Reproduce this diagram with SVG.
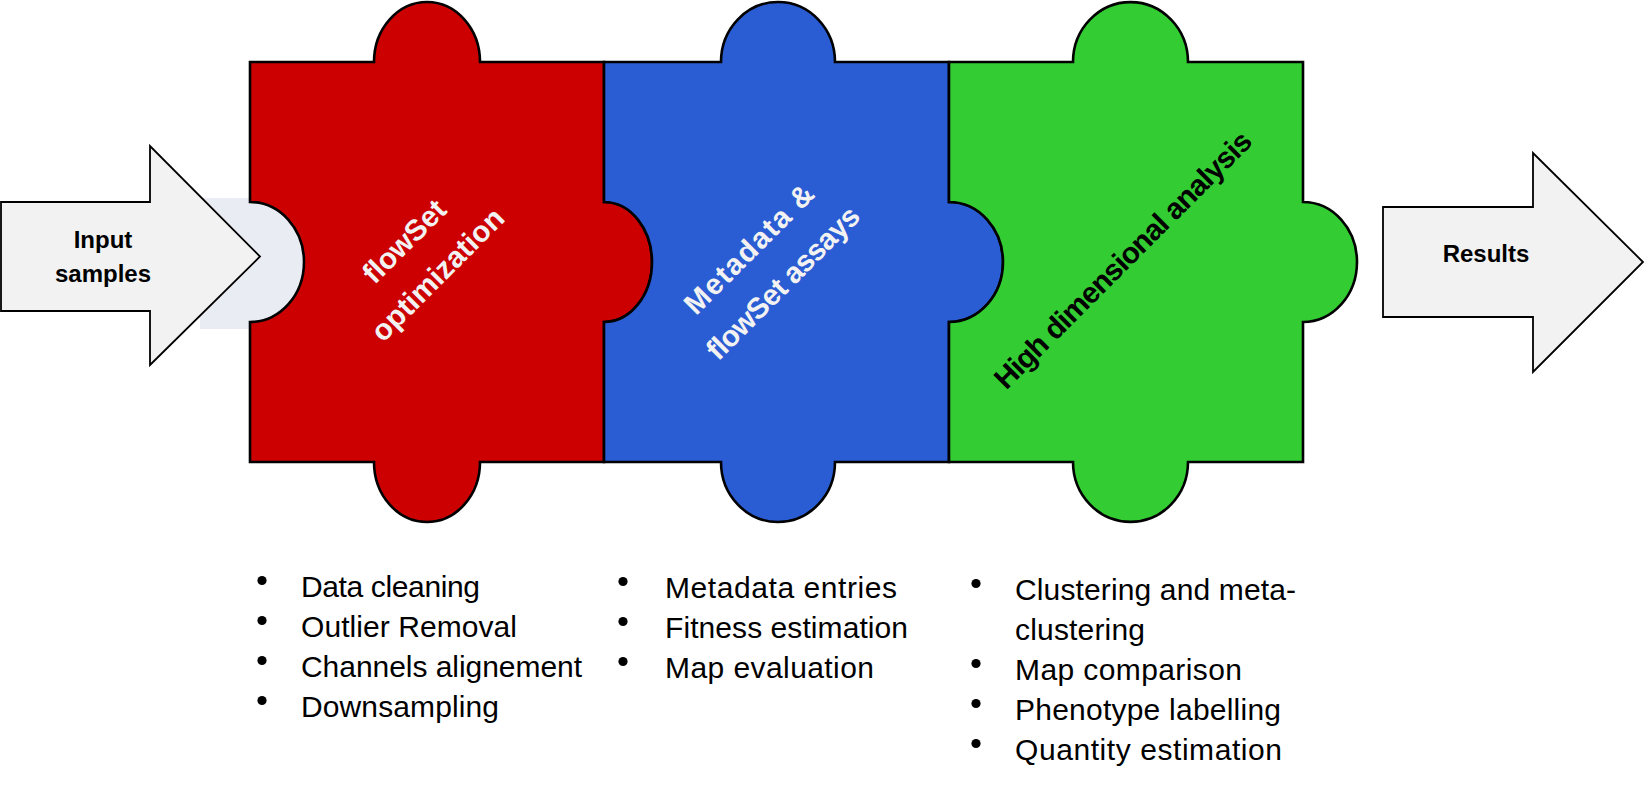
<svg xmlns="http://www.w3.org/2000/svg" width="1645" height="794" viewBox="0 0 1645 794">
  <style>
    .arrow { fill: #F2F2F2; stroke: #000; stroke-width: 1.8; stroke-linejoin: miter; }
    .piece { stroke: #000; stroke-width: 2.6; stroke-linejoin: miter; }
    .lbl { font-family: "Liberation Sans", Arial, sans-serif; font-weight: bold; }
    .big { font-size: 29.5px; text-anchor: middle; }
    .arrowtxt { font-size: 24px; text-anchor: middle; fill: #000; }
    .list { font-family: "Liberation Sans", Arial, sans-serif; font-size: 30px; fill: #000; }
    .dot { fill: #000; }
  </style>
  <rect width="1645" height="794" fill="#fff"/>

  <!-- entry tab behind the input arrow -->
  <g id="input-tab">
    <path d="M200,198 H250 V202 A54,60 0 0 1 250,322 V329 H200 Z" fill="#E9EDF3"/>
  </g>

  <!-- input arrow -->
  <g id="input-samples">
    <path class="arrow" d="M1,202 H150 V146 L260,256.5 L150,365 V311 H1 Z"/>
    <text class="lbl arrowtxt" x="103" y="248">Input</text>
    <text class="lbl arrowtxt" x="103" y="282">samples</text>
  </g>

  <!-- puzzle piece 1 -->
  <g id="flowset-optimization">
    <path class="piece" fill="#CC0000" d="M250,62 H374 A53,60 0 0 1 480,62 H604 V202 A48,60 0 0 1 604,322 V462 H480 A53,60 0 0 1 374,462 H250 V322 A54,60 0 0 0 250,202 Z"/>
    <g transform="translate(428,265) rotate(-45)">
      <text class="lbl big" fill="#F2F2F2" x="0" y="-23.5" textLength="104">flowSet</text>
      <text class="lbl big" fill="#F2F2F2" x="0" y="23.5" textLength="174">optimization</text>
    </g>
  </g>

  <!-- puzzle piece 2 -->
  <g id="metadata-assays">
    <path class="piece" fill="#2A5CD3" d="M604,62 H721 A57,60 0 0 1 835,62 H949 V202 A54,60 0 0 1 949,322 V462 H835 A57,60 0 0 1 721,462 H604 V322 A48,60 0 0 0 604,202 Z"/>
    <g transform="translate(773,273) rotate(-45)">
      <text class="lbl big" fill="#F2F2F2" x="0" y="-24" textLength="170">Metadata &amp;</text>
      <text class="lbl big" fill="#F2F2F2" x="0" y="24" textLength="203">flowSet assays</text>
    </g>
  </g>

  <!-- puzzle piece 3 -->
  <g id="high-dimensional">
    <path class="piece" fill="#33CC33" d="M949,62 H1073 A57.5,60 0 0 1 1188,62 H1303 V202 A54,60 0 0 1 1303,322 V462 H1188 A57.5,60 0 0 1 1073,462 H949 V322 A54,60 0 0 0 949,202 Z"/>
    <g transform="translate(1130,267) rotate(-45)">
      <text class="lbl big" fill="#000" x="0" y="0" textLength="350">High dimensional analysis</text>
    </g>
  </g>

  <!-- output arrow -->
  <g id="results">
    <path class="arrow" d="M1383,207 H1533 V153 L1643,262 L1533,372 V317 H1383 Z"/>
    <text class="lbl arrowtxt" x="1486" y="262">Results</text>
  </g>

  <!-- step details -->
  <g id="list-optimization">
    <circle class="dot" cx="262" cy="580.5" r="4.6"/>
    <circle class="dot" cx="262" cy="620.5" r="4.6"/>
    <circle class="dot" cx="262" cy="660.5" r="4.6"/>
    <circle class="dot" cx="262" cy="700.5" r="4.6"/>
    <text class="list" x="301" y="597" textLength="179">Data cleaning</text>
    <text class="list" x="301" y="637" textLength="216">Outlier Removal</text>
    <text class="list" x="301" y="677" textLength="281">Channels alignement</text>
    <text class="list" x="301" y="717" textLength="198">Downsampling</text>
  </g>

  <g id="list-metadata">
    <circle class="dot" cx="623" cy="581.5" r="4.6"/>
    <circle class="dot" cx="623" cy="621.5" r="4.6"/>
    <circle class="dot" cx="623" cy="661.5" r="4.6"/>
    <text class="list" x="665" y="598" textLength="232">Metadata entries</text>
    <text class="list" x="665" y="638" textLength="243">Fitness estimation</text>
    <text class="list" x="665" y="678" textLength="209">Map evaluation</text>
  </g>

  <g id="list-analysis">
    <circle class="dot" cx="976" cy="583.5" r="4.6"/>
    <circle class="dot" cx="976" cy="663.5" r="4.6"/>
    <circle class="dot" cx="976" cy="703.5" r="4.6"/>
    <circle class="dot" cx="976" cy="743.5" r="4.6"/>
    <text class="list" x="1015" y="600" textLength="281">Clustering and meta-</text>
    <text class="list" x="1015" y="640" textLength="130">clustering</text>
    <text class="list" x="1015" y="680" textLength="227">Map comparison</text>
    <text class="list" x="1015" y="720" textLength="266">Phenotype labelling</text>
    <text class="list" x="1015" y="760" textLength="267">Quantity estimation</text>
  </g>
</svg>
